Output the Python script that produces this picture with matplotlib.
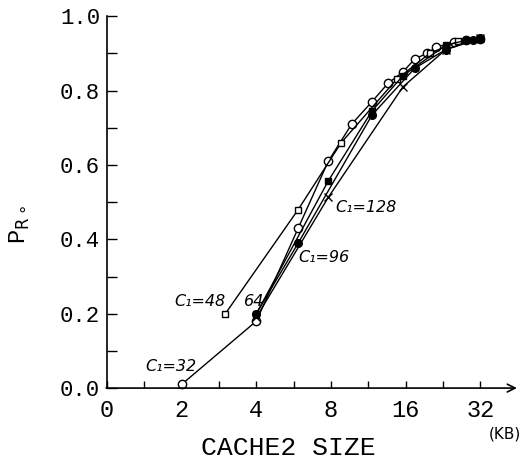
import numpy as np
import matplotlib

matplotlib.use("Agg")
import matplotlib.pyplot as plt
from matplotlib.ticker import NullFormatter

# cache2 size (KB) and hit ratio, one list pair per C1 curve
c32_x = [2, 4, 5.9, 7.8, 9.7, 11.7, 13.6, 15.6, 17.4, 19.5, 21.3, 25, 28, 32]
c32_y = [0.01, 0.18, 0.43, 0.61, 0.71, 0.77, 0.82, 0.85, 0.885, 0.90, 0.917, 0.93, 0.935, 0.938]

c48_x = [3, 5.9, 8.8, 14.7, 20, 26, 32]
c48_y = [0.20, 0.48, 0.66, 0.83, 0.90, 0.932, 0.938]

c64_x = [4, 7.8, 11.7, 15.6, 23.2, 28, 32]
c64_y = [0.20, 0.557, 0.745, 0.84, 0.922, 0.935, 0.94]

c96_x = [4, 5.9, 11.7, 17.4, 23.2, 30, 32]
c96_y = [0.20, 0.39, 0.734, 0.86, 0.91, 0.937, 0.94]

c128_x = [4, 7.8, 15.6, 23.2, 32]
c128_y = [0.19, 0.513, 0.81, 0.91, 0.94]

x_ticks = [1, 2, 4, 8, 16, 32]
x_labels = ["0", "2", "4", "8", "16", "32"]
y_ticks = [0.0, 0.2, 0.4, 0.6, 0.8, 1.0]
y_labels = ["0.0", "0.2", "0.4", "0.6", "0.8", "1.0"]

MONO = "Liberation Mono"
HAND = dict(family="DejaVu Sans", style="italic", fontsize=11.5)

fig = plt.figure(figsize=(5.31, 4.62), dpi=100)
ax = fig.add_axes([0.2015, 0.160, 0.772, 0.805])

line_kw = dict(color="black", lw=1.0, clip_on=False)
ax.plot(c32_x, c32_y, marker="o", ms=6, mfc="white", mec="black", mew=1.0, **line_kw)
ax.plot(c48_x, c48_y, marker="s", ms=5, mfc="white", mec="black", mew=1.0, **line_kw)
ax.plot(c96_x, c96_y, marker="o", ms=5.5, mfc="black", mec="black", **line_kw)
ax.plot(c128_x, c128_y, marker="x", ms=6, mec="black", mew=1.0, **line_kw)
ax.plot(c64_x, c64_y, marker="s", ms=5, mfc="black", mec="black", **line_kw)

ax.set_xscale("log", base=2)
ax.set_xlim(1, 2 ** 5.49)
ax.set_ylim(0, 1.0)

ax.set_xticks(x_ticks, x_labels)
ax.set_xticks(2 ** np.arange(0.5, 5.0, 1.0), minor=True)
ax.xaxis.set_minor_formatter(NullFormatter())
ax.set_yticks(y_ticks, y_labels)
ax.set_yticks([0.1, 0.3, 0.5, 0.7, 0.9], minor=True)

ax.tick_params(axis="y", which="both", direction="in", length=7, width=1.0, pad=5)
ax.tick_params(axis="x", which="both", direction="in", length=5, width=1.0, pad=8)
for lab in ax.get_yticklabels():
    lab.set_fontfamily(MONO)
    lab.set_fontsize(16)
for lab in ax.get_xticklabels():
    lab.set_fontfamily(MONO)
    lab.set_fontsize(17)

for side in ("top", "right", "bottom"):
    ax.spines[side].set_visible(False)
ax.spines["left"].set_linewidth(1.2)

# x axis drawn as an arrow
ax.annotate("", xy=(1.0, 0), xytext=(-0.002, 0), xycoords="axes fraction",
            arrowprops=dict(arrowstyle="->", lw=1.2, color="black",
                            mutation_scale=14, shrinkA=0, shrinkB=0))

# axis titles
fig.text(288 / 531, 1 - 448 / 462, "CACHE2 SIZE", family=MONO, fontsize=19,
         ha="center", va="center")
fig.text(505 / 531, 1 - 434 / 462, "(KB)", family="DejaVu Sans", fontsize=11,
         ha="center", va="center")
fig.text(20 / 531, 1 - 225 / 462, r"P$_{\mathrm{R}\circ}$", family=MONO,
         fontsize=17, rotation=90, ha="center", va="center")

# handwritten curve labels
ax.text(2 ** 0.86, 0.058, "C₁=32", ha="center", va="center", **HAND)
ax.text(2 ** 1.25, 0.232, "C₁=48", ha="center", va="center", **HAND)
ax.text(2 ** 1.97, 0.232, "64", ha="center", va="center", **HAND)
ax.text(2 ** 2.90, 0.350, "C₁=96", ha="center", va="center", **HAND)
ax.text(2 ** 3.47, 0.485, "C₁=128", ha="center", va="center", **HAND)

fig.savefig("out.png", dpi=100)
plt.close(fig)
